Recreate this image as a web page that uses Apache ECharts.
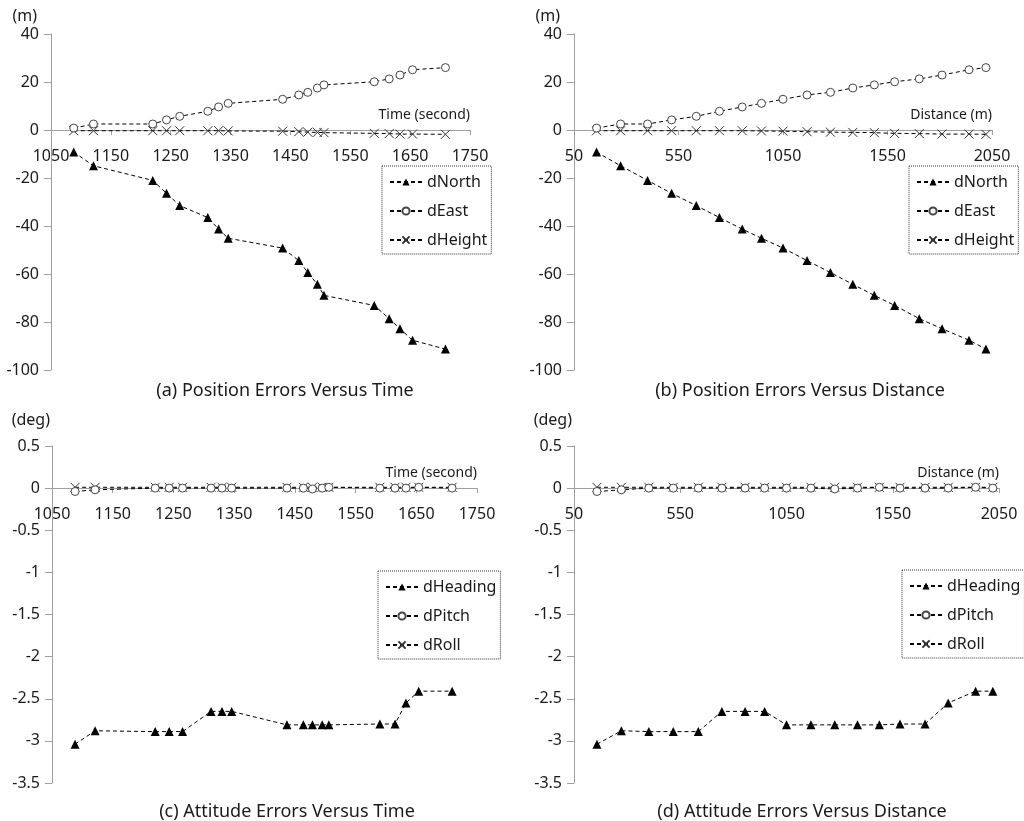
<!DOCTYPE html>
<html>
<head>
<meta charset="utf-8">
<script src="https://cdn.jsdelivr.net/npm/echarts@6/dist/echarts.min.js"></script>
<style>
  html, body { margin: 0; padding: 0; background: #fff; }
  #main { width: 1024px; height: 821px; }
</style>
</head>
<body>
<div id="main"></div>
<script>
//////////// data //////////////////
var timeSec = [1088, 1121, 1220, 1243, 1265, 1312, 1330, 1346, 1437, 1464, 1479, 1495, 1506, 1590, 1615, 1633, 1654, 1709];
var distM = [158, 273, 402, 517, 635, 746, 855, 947, 1050, 1165, 1277, 1384, 1487, 1584, 1702, 1811, 1940, 2021];

var dNorth = [-9.2, -14.9, -21, -26.4, -31.5, -36.5, -41.3, -45.1, -49.2, -54.4, -59.4, -64.3, -68.9, -73.1, -78.6, -82.8, -87.6, -91.3];
var dEast = [0.8, 2.5, 2.5, 4.2, 5.7, 7.8, 9.6, 11.1, 12.8, 14.6, 15.7, 17.5, 18.8, 20.1, 21.3, 22.9, 25.1, 26];
var dHeight = [-0.3, -0.3, -0.3, -0.3, -0.3, -0.3, -0.3, -0.4, -0.5, -0.7, -0.9, -1.0, -1.1, -1.4, -1.5, -1.7, -1.7, -1.8];

var dHeading = [-3.04, -2.88, -2.89, -2.89, -2.89, -2.65, -2.65, -2.65, -2.81, -2.81, -2.81, -2.81, -2.81, -2.80, -2.80, -2.55, -2.41, -2.41];
var dPitch = [-0.04, -0.02, 0, 0, 0, 0, 0, 0, 0, 0, -0.01, 0, 0.01, 0, 0, 0, 0.01, 0];
var dRoll = [0.01, 0.01, 0.01, 0.01, 0.01, 0.01, 0.01, 0.01, 0.01, 0.01, 0.01, 0.01, 0.01, 0.01, 0.01, 0.01, 0.01, 0.01];

var timeTicks = [1050, 1150, 1250, 1350, 1450, 1550, 1650, 1750];
var distTicks = [50, 550, 1050, 1550, 2050];

var chartTitles = ['(a) Position Errors Versus Time', '(b) Position Errors Versus Distance',
                   '(c) Attitude Errors Versus Time', '(d) Attitude Errors Versus Distance'];

//////////// styles //////////////////
var FONT = 'Noto Sans';
var TXT = '#1a1a1a';
var AXIS_GRAY = '#a0a0a0';
var CROSS = 'path://M0,0L10,10M0,10L10,0';

// grid boxes (left, top, width, height) and y ranges
var grids = [
    { left: 51, top: 34, width: 419, height: 336 },
    { left: 574, top: 34, width: 418, height: 336 },
    { left: 52, top: 446, width: 425, height: 337 },
    { left: 574, top: 446, width: 425, height: 337 }
];
var posRange = [-100, 40, 20];
var attRange = [-3.5, 0.5, 0.5];

function pairs(xs, ys) {
    var out = [];
    for (var i = 0; i < xs.length; i++) out.push([xs[i], ys[i]]);
    return out;
}

function lineSeries(name, idx, xs, ys, kind) {
    var s = {
        name: name,
        type: 'line',
        xAxisIndex: idx,
        yAxisIndex: idx,
        data: pairs(xs, ys),
        lineStyle: { color: '#000', width: 1, type: [4, 3] },
        emphasis: { disabled: true },
        animation: false
    };
    if (kind === 'tri') {
        s.symbol = 'triangle';
        s.symbolSize = 9;
        s.itemStyle = { color: '#000', borderWidth: 0 };
        s.z = 4;
    } else if (kind === 'circ') {
        s.symbol = 'circle';
        s.symbolSize = 8;
        s.itemStyle = { color: '#fff', borderColor: '#444', borderWidth: 1 };
        s.z = 3;
    } else {
        s.symbol = CROSS;
        s.symbolSize = 9;
        s.itemStyle = { color: '#fff', borderColor: '#333', borderWidth: 1 };
        s.z = 2;
    }
    return s;
}

// x axis sits on y = 0: shift it up from the grid bottom by where 0 falls in the y range
function xAxisOf(idx, min, max, ticks, name, yr) {
    var zeroOffset = -grids[idx].height * (0 - yr[0]) / (yr[1] - yr[0]);
    return {
        type: 'value', gridIndex: idx, min: min, max: max,
        position: 'bottom', offset: zeroOffset,
        name: name, nameLocation: 'end', nameGap: 0,
        nameTextStyle: { fontFamily: FONT, fontSize: 14, color: TXT, align: 'right', verticalAlign: 'bottom', padding: [0, 0, 8, 0] },
        axisLine: { show: true, onZero: false, lineStyle: { color: AXIS_GRAY, width: 1 } },
        axisTick: { show: true, length: 5, customValues: ticks, lineStyle: { color: AXIS_GRAY } },
        axisLabel: {
            customValues: ticks, margin: 18, fontFamily: FONT, fontSize: 16, color: TXT,
            formatter: function (v) { return String(v); }
        },
        splitLine: { show: false }
    };
}

function yAxisOf(idx, yr, name, gap, padR) {
    return {
        type: 'value', gridIndex: idx, min: yr[0], max: yr[1], interval: yr[2],
        name: name, nameLocation: 'end', nameGap: gap,
        nameTextStyle: { fontFamily: FONT, fontSize: 16, color: TXT, align: 'right', padding: [0, padR, 0, 0] },
        axisLine: { show: true, onZero: false, lineStyle: { color: AXIS_GRAY, width: 1 } },
        axisTick: { show: true, length: 7, lineStyle: { color: AXIS_GRAY } },
        axisLabel: { margin: 12, fontFamily: FONT, fontSize: 16, color: TXT },
        splitLine: { show: false }
    };
}

function legendOf(names, left, top) {
    return {
        data: names, orient: 'vertical', left: left, top: top,
        padding: [8, 4, 6, 7], itemGap: 13, itemWidth: 32, itemHeight: 9,
        borderColor: '#333', borderWidth: 1, borderType: 'dotted',
        selectedMode: false,
        textStyle: { fontFamily: FONT, fontSize: 16, color: TXT, lineHeight: 16 }
    };
}

function titleOf(text, cx, top) {
    return {
        text: text, left: cx, top: top, textAlign: 'center',
        textStyle: { fontFamily: FONT, fontSize: 18, fontWeight: 'normal', color: TXT }
    };
}

var chart = echarts.init(document.getElementById('main'), null, { renderer: 'canvas' });
var option = {
    backgroundColor: '#FFFFFF',
    animation: false,
    title: [
        titleOf(chartTitles[0], 280, 377),
        titleOf(chartTitles[1], 795, 377),
        titleOf(chartTitles[2], 282, 798),
        titleOf(chartTitles[3], 797, 798)
    ],
    legend: [
        legendOf(['dNorth', 'dEast', 'dHeight'], 382, 166),
        legendOf(['dNorth', 'dEast', 'dHeight'], 909, 166),
        legendOf(['dHeading', 'dPitch', 'dRoll'], 378, 571),
        legendOf(['dHeading', 'dPitch', 'dRoll'], 902, 570)
    ],
    grid: grids,
    xAxis: [
        xAxisOf(0, 1050, 1750, timeTicks, 'Time (second)', posRange),
        xAxisOf(1, 50, 2050, distTicks, 'Distance (m)', posRange),
        xAxisOf(2, 1050, 1750, timeTicks, 'Time (second)', attRange),
        xAxisOf(3, 50, 2050, distTicks, 'Distance (m)', attRange)
    ],
    yAxis: [
        yAxisOf(0, posRange, '(m)', 10, 14),
        yAxisOf(1, posRange, '(m)', 10, 14),
        yAxisOf(2, attRange, '(deg)', 18, 2),
        yAxisOf(3, attRange, '(deg)', 18, 2)
    ],
    series: [
        lineSeries('dNorth', 0, timeSec, dNorth, 'tri'),
        lineSeries('dEast', 0, timeSec, dEast, 'circ'),
        lineSeries('dHeight', 0, timeSec, dHeight, 'cross'),
        lineSeries('dNorth', 1, distM, dNorth, 'tri'),
        lineSeries('dEast', 1, distM, dEast, 'circ'),
        lineSeries('dHeight', 1, distM, dHeight, 'cross'),
        lineSeries('dHeading', 2, timeSec, dHeading, 'tri'),
        lineSeries('dPitch', 2, timeSec, dPitch, 'circ'),
        lineSeries('dRoll', 2, timeSec, dRoll, 'cross'),
        lineSeries('dHeading', 3, distM, dHeading, 'tri'),
        lineSeries('dPitch', 3, distM, dPitch, 'circ'),
        lineSeries('dRoll', 3, distM, dRoll, 'cross')
    ]
};
chart.setOption(option);
</script>
</body>
</html>
